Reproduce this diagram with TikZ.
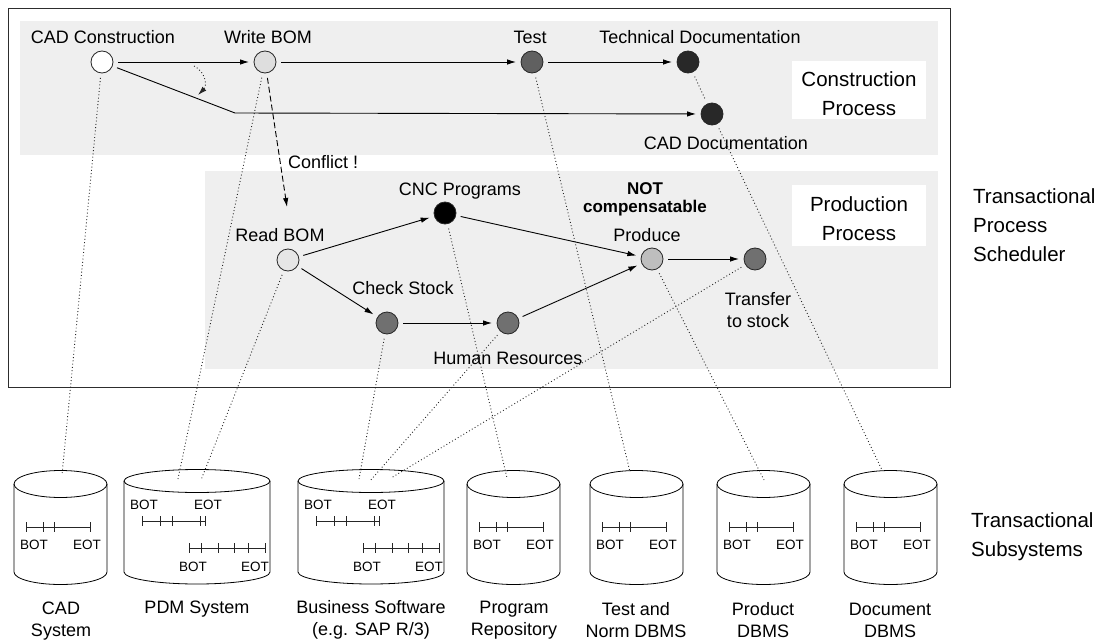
\documentclass[tikz,border=0pt]{standalone}
\usepackage{fontspec}
\setmainfont{Liberation Sans}
\usetikzlibrary{arrows.meta,calc}
\definecolor{bgc}{RGB}{239,239,239}
\definecolor{framec}{RGB}{45,45,45}
\definecolor{cwb}{RGB}{222,222,222}
\definecolor{crb}{RGB}{230,230,230}
\definecolor{ctest}{RGB}{96,96,96}
\definecolor{cdark}{RGB}{40,40,40}
\definecolor{cmid}{RGB}{112,112,112}
\definecolor{cprod}{RGB}{190,190,190}
\newcommand{\tickline}[2]{%
  \foreach \tx in {#2}{\draw[tl] (\tx,{#1-5}) -- (\tx,{#1+5});}}
\newcommand{\narrowcyl}[2]{% #1 left edge, #2 name
  \draw[cyl] (#1,484) -- (#1,572) arc[start angle=180,end angle=360,x radius=46.5pt,y radius=12.5pt] -- ({#1+93},484);
  \draw[cyl] ({#1+46.5},484) ellipse [x radius=46.5pt,y radius=13.5pt];
  \draw[tl] ({#1+12},527) -- ({#1+76},527);
  \tickline{527}{{#1+12},{#1+29},{#1+40},{#1+76}}
  \node[bt] (#2-bot) at ({#1+20},549.8) {BOT};
  \node[bt] (#2-eot) at ({#1+73},549.8) {EOT};}
\newcommand{\widecyl}[2]{% #1 left edge, #2 name
  \draw[cyl] (#1,481) -- (#1,572) arc[start angle=180,end angle=360,x radius=73pt,y radius=12pt] -- ({#1+146},481);
  \draw[cyl] ({#1+73},481) ellipse [x radius=73pt,y radius=11.5pt];
  \draw[tl] ({#1+18},521) -- ({#1+81},521);
  \tickline{521}{{#1+18},{#1+36},{#1+48},{#1+76},{#1+81}}
  \draw[tl] ({#1+65},548) -- ({#1+141},548);
  \tickline{548}{{#1+65},{#1+77},{#1+94},{#1+110},{#1+124},{#1+141}}
  \node[bt] (#2-bot1) at ({#1+20},509.8) {BOT};
  \node[bt] (#2-eot1) at ({#1+84},509.8) {EOT};
  \node[bt] (#2-bot2) at ({#1+69},571.8) {BOT};
  \node[bt] (#2-eot2) at ({#1+131},571.8) {EOT};}
\begin{document}
\begin{tikzpicture}[x=1pt,y=-1pt,
  lab/.style={font=\fontsize{18}{22}\selectfont, inner sep=0pt, anchor=base, align=center},
  mlab/.style={font=\fontsize{18}{22}\selectfont, inner sep=0pt, align=center},
  big/.style={font=\fontsize{20.5}{29}\selectfont, inner sep=0pt},
  bt/.style={font=\fontsize{13.5}{14}\selectfont, inner sep=0pt, anchor=base},
  act/.style={circle, draw=black!85, line width=0.8pt, minimum size=22pt, inner sep=0pt, outer sep=5pt},
  arr/.style={-{Latex[length=9pt,width=5.5pt]}, line width=0.9pt},
  dotl/.style={dash pattern=on 0.9pt off 2.4pt, line width=0.9pt, black!85},
  cyl/.style={line width=0.8pt},
  tl/.style={line width=0.9pt, black!85},
]
\useasboundingbox (0,0) rectangle (1100,642);
% backgrounds
\fill[bgc] (20,21) rectangle (938,155);
\fill[bgc] (205,171) rectangle (938,369);
\draw[framec, line width=1pt] (8,9) rectangle (950,387);
\node[fill=white, minimum width=134pt, minimum height=58pt, inner sep=0pt] (cpbox) at (859,90) {};
\node[fill=white, minimum width=134pt, minimum height=61pt, inner sep=0pt] (ppbox) at (859,215.5) {};
\node[big, align=center] (cptext) at (859,94) {Construction\\Process};
\node[big, align=center] (pptext) at (859,219) {Production\\Process};

% activities
\node[act, fill=white] (cad) at (102,62) {};
\node[act, fill=cwb] (wbom) at (265,62) {};
\node[act, fill=ctest] (test) at (532,62) {};
\node[act, fill=cdark] (tdoc) at (688,62) {};
\node[act, fill=cdark] (cdoc) at (712,114) {};
\node[act, fill=crb] (rbom) at (288,260) {};
\node[act, fill=black] (cnc) at (445,213) {};
\node[act, fill=cmid] (chk) at (387,323) {};
\node[act, fill=cmid] (hr) at (508,323) {};
\node[act, fill=cprod] (prod) at (652,259) {};
\node[act, fill=cmid] (trans) at (755,259) {};

% labels
\node[lab] (lcad) at (103,43.5) {CAD Construction};
\node[lab] (lwbom) at (268,43.5) {Write BOM};
\node[lab] (ltest) at (530,43.5) {Test};
\node[lab] (ltdoc) at (700,43.5) {Technical Documentation};
\node[lab] (lcdoc) at (726,149.5) {CAD Documentation};
\node[lab, anchor=base west] (lconf) at (288,168.5) {Conflict !};
\node[lab] (lrbom) at (280,241.5) {Read BOM};
\node[lab] (lcnc) at (460,195.5) {CNC Programs};
\node[lab] (lchk) at (403,294.5) {Check Stock};
\node[lab] (lhr) at (508,364.5) {Human Resources};
\node[font=\bfseries\fontsize{17}{18}\selectfont, inner sep=0pt, align=center] (lnot) at (645,199.5) {NOT\\compensatable};
\node[lab] (lprod) at (647,241.5) {Produce};
\node[mlab] (ltrans) at (758,310) {Transfer\\to stock};

% right side labels
\node[big, align=left, anchor=west] (tps) at (973,225) {Transactional\\Process\\Scheduler};
\node[big, align=left, anchor=west] (tss) at (971,537) {Transactional\\Subsystems};

% cylinders
\narrowcyl{14}{cadsys}
\widecyl{124}{pdm}
\widecyl{298}{bus}
\narrowcyl{467}{prog}
\narrowcyl{590}{tdb}
\narrowcyl{717}{pdb}
\narrowcyl{844}{ddb}

\node[mlab] (ncad) at (61,621) {CAD\\System};
\node[lab] (npdm) at (197,613.5) {PDM System};
\node[mlab] (nbus) at (371,620) {Business Software\\(e.g. SAP R/3)};
\node[mlab] (nprog) at (514,620) {Program\\Repository};
\node[mlab] (ntdb) at (636,620) {Test and\\Norm DBMS};
\node[mlab] (npdb) at (763,620) {Product\\DBMS};
\node[mlab] (nddb) at (890,620) {Document\\DBMS};

% end points of mapping lines
\coordinate (ecad) at (62,475);
\coordinate (epdm1) at (178,479);
\coordinate (epdm2) at (201,480);
\coordinate (ebus1) at (359,479);
\coordinate (ebus2) at (370,481);
\coordinate (ebus3) at (391,478);
\coordinate (eprog) at (507,478);
\coordinate (etdb) at (630,472);
\coordinate (epdb) at (764,480);
\coordinate (eddb) at (882,470);

% mapping lines
\draw[dotl] (cad) -- (ecad);
\draw[dotl] (wbom) -- (epdm1);
\draw[dotl] (rbom) -- (epdm2);
\draw[dotl] (chk) -- (ebus1);
\draw[dotl] (hr) -- (ebus2);
\draw[dotl] (trans) -- (ebus3);
\draw[dotl] (cnc) -- (eprog);
\draw[dotl] (test) -- (etdb);
\draw[dotl] (prod) -- (epdb);
\draw[dotl] (tdoc) -- (cdoc);
\draw[dotl] (cdoc) -- (eddb);

% control flow
\coordinate (bendc) at (235,113);
\coordinate (confend) at (287,207);
\coordinate (rs) at (194,66);
\coordinate (re) at (198,95);
\draw[arr] (cad) -- (wbom);
\draw[arr] (wbom) -- (test);
\draw[arr] (test) -- (tdoc);
\draw[arr] (cad) -- (bendc) -- (cdoc);
\draw[arr, dash pattern=on 6pt off 3pt] (wbom) -- (confend);
\draw[dotl, -{Latex[length=9pt,width=5.5pt]}] (rs) .. controls (206,72) and (207,86) .. (re);
\draw[arr] (rbom) -- (cnc);
\draw[arr] (rbom) -- (chk);
\draw[arr] (chk) -- (hr);
\draw[arr] (cnc) -- (prod);
\draw[arr] (hr) -- (prod);
\draw[arr] (prod) -- (trans);
\end{tikzpicture}
\end{document}
